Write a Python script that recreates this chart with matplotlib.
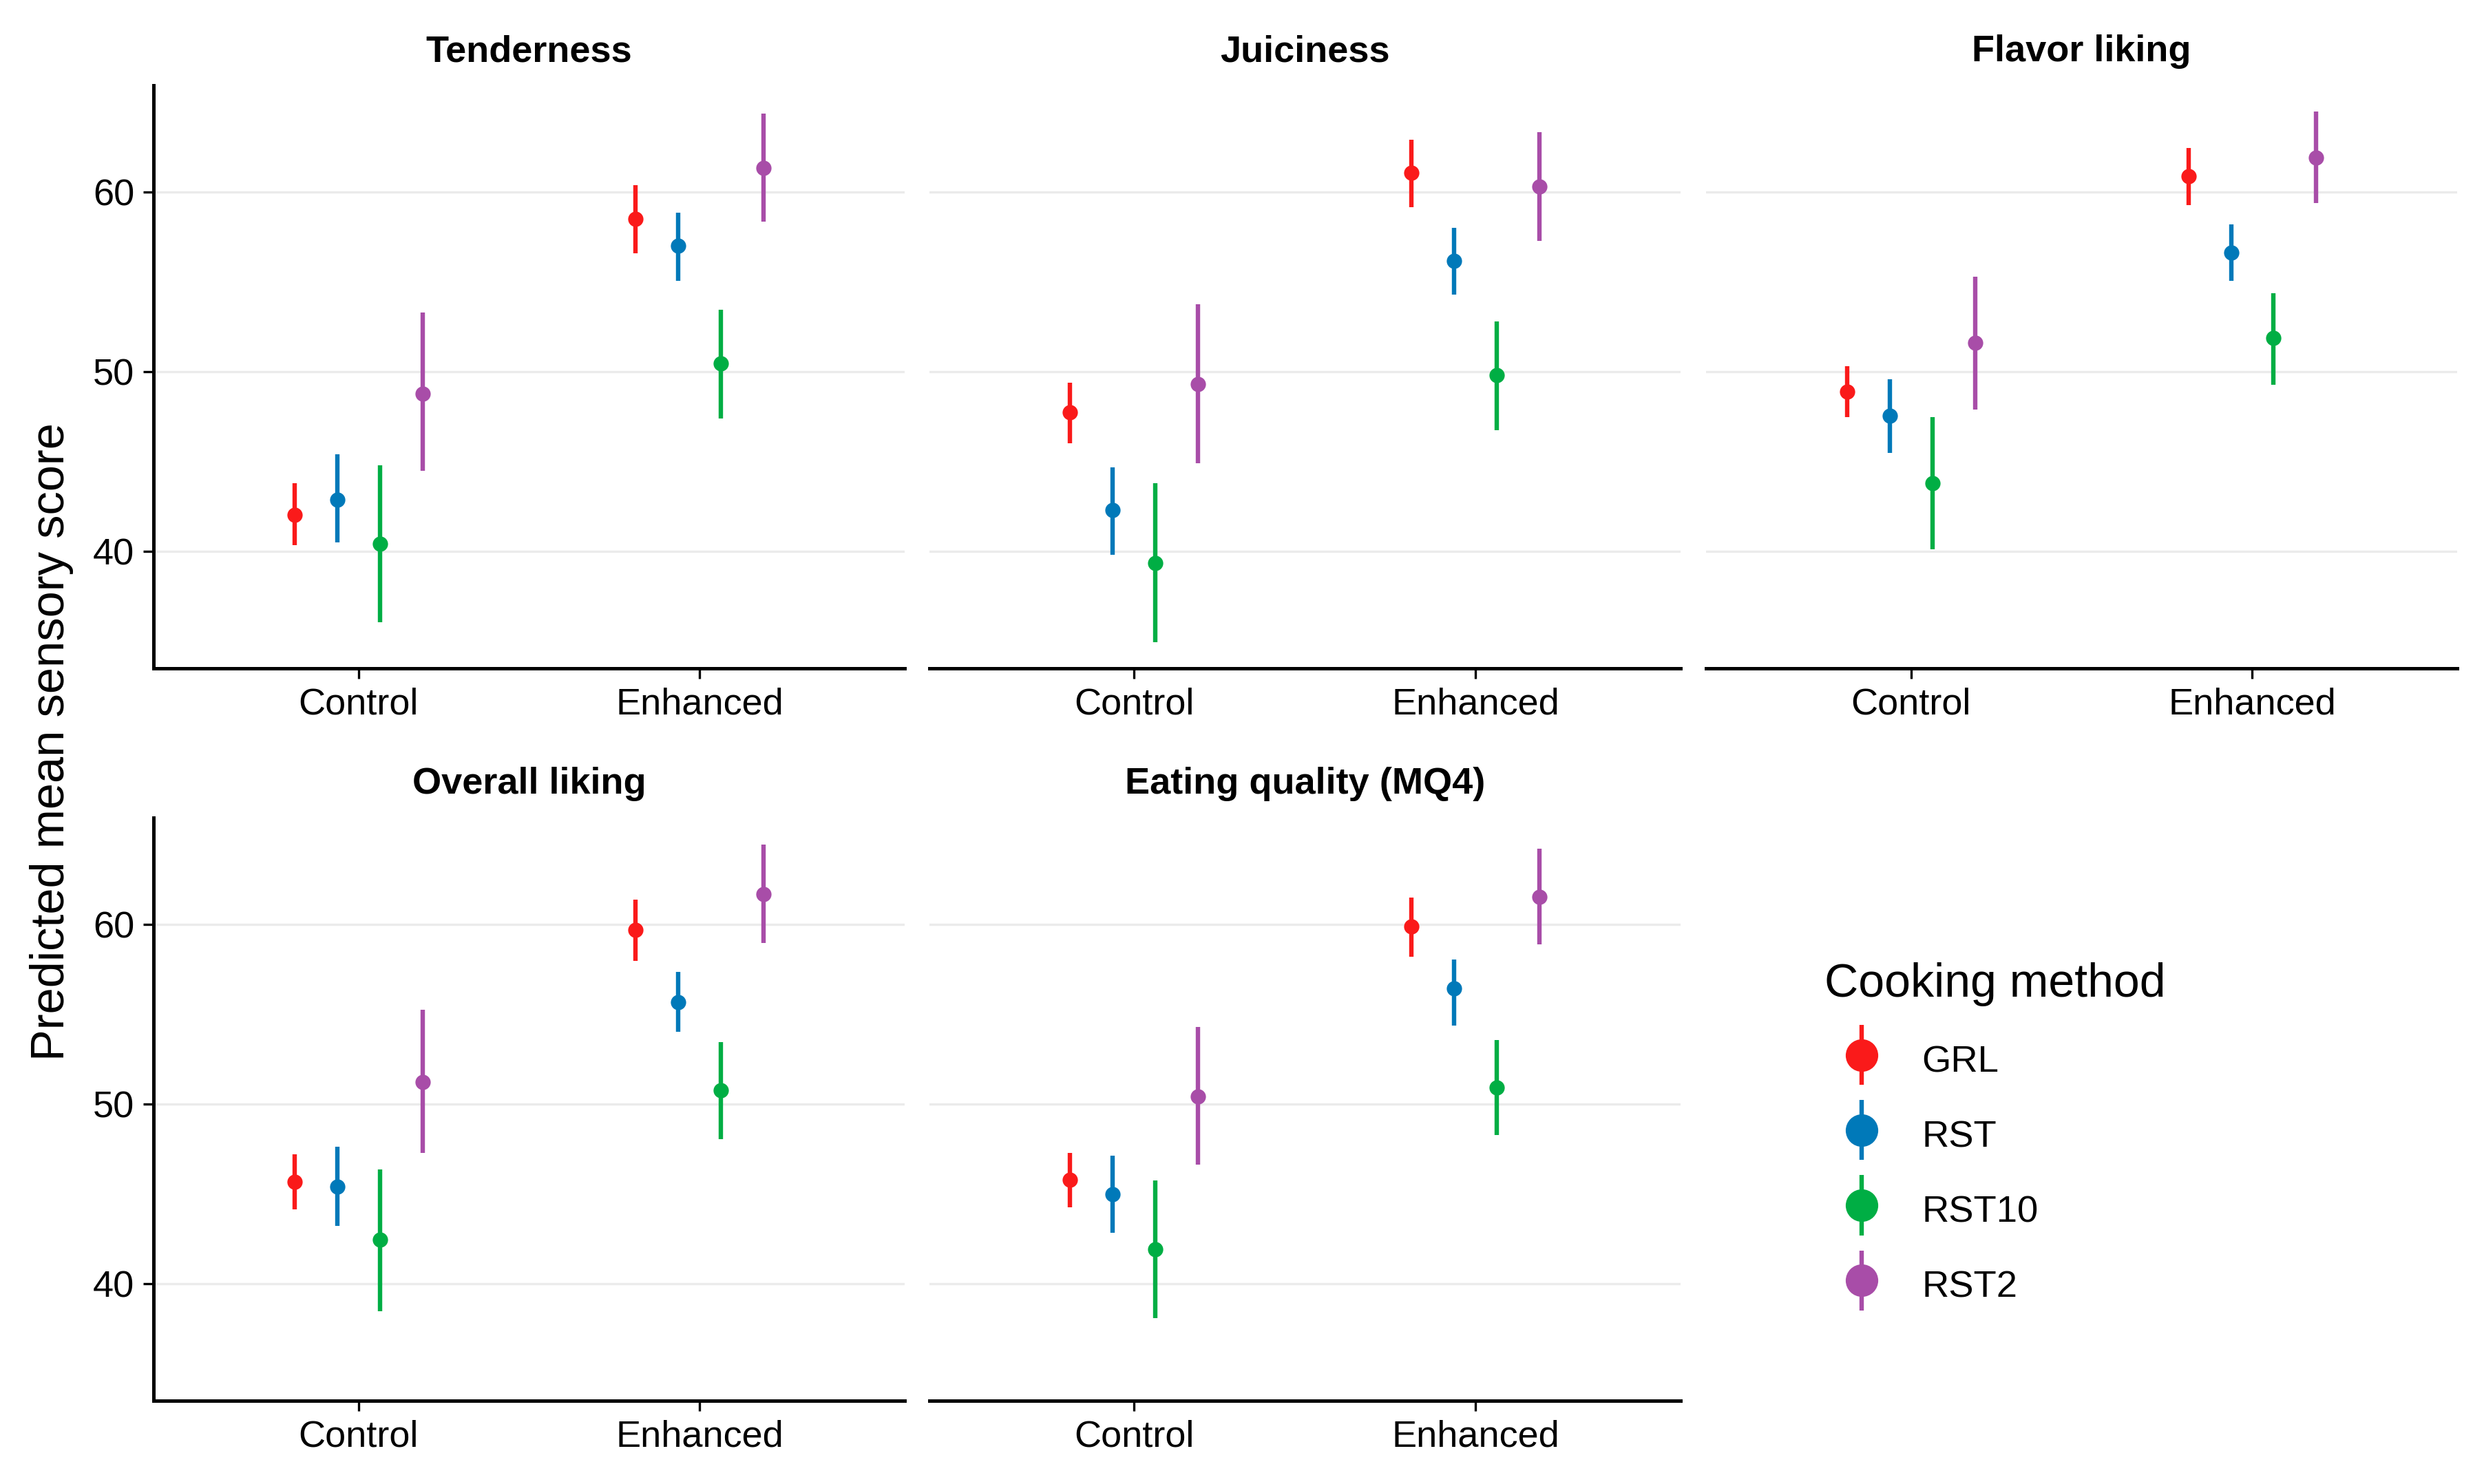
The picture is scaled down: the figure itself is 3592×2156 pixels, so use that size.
import matplotlib
matplotlib.use("Agg")
import matplotlib.pyplot as plt
import numpy as np
from matplotlib.lines import Line2D
from matplotlib.collections import LineCollection
from matplotlib.container import ErrorbarContainer
from matplotlib.legend_handler import HandlerErrorbar

plt.rcParams["font.family"] = ["Liberation Sans", "DejaVu Sans"]

treatments = ["Control", "Enhanced"]
methods = ["GRL", "RST", "RST10", "RST2"]
colors = ["#FA1A1A", "#0079B9", "#00AE44", "#A84DA8"]

# predicted means and interval ends, rows = treatment, cols = method
tenderness_mean = [[42.05, 42.9, 40.44, 48.8], [58.5, 57.0, 50.45, 61.35]]
tenderness_low = [[40.36, 40.5, 36.07, 44.5], [56.6, 55.06, 47.4, 58.34]]
tenderness_high = [[43.8, 45.4, 44.8, 53.3], [60.4, 58.86, 53.47, 64.37]]

juiciness_mean = [[47.74, 42.3, 39.38, 49.32], [61.07, 56.18, 49.8, 60.3]]
juiciness_low = [[46.03, 39.84, 34.98, 44.9], [59.17, 54.3, 46.75, 57.27]]
juiciness_high = [[49.4, 44.7, 43.8, 53.75], [62.9, 58.0, 52.8, 63.33]]

flavor_mean = [[48.9, 47.57, 43.8, 51.6], [60.88, 56.64, 51.87, 61.9]]
flavor_low = [[47.5, 45.5, 40.13, 47.9], [59.27, 55.06, 49.3, 59.38]]
flavor_high = [[50.3, 49.6, 47.5, 55.3], [62.45, 58.2, 54.37, 64.47]]

overall_mean = [[45.68, 45.41, 42.45, 51.25], [59.7, 55.69, 50.78, 61.7]]
overall_low = [[44.15, 43.23, 38.49, 47.29], [57.98, 54.02, 48.07, 58.96]]
overall_high = [[47.21, 47.62, 46.38, 55.24], [61.37, 57.36, 53.47, 64.44]]

mq4_mean = [[45.79, 45.0, 41.94, 50.43], [59.87, 56.45, 50.94, 61.53]]
mq4_low = [[44.28, 42.85, 38.09, 46.62], [58.2, 54.39, 48.3, 58.9]]
mq4_high = [[47.29, 47.13, 45.76, 54.29], [61.5, 58.06, 53.58, 64.2]]

panels = [
    ("Tenderness", tenderness_mean, tenderness_low, tenderness_high),
    ("Juiciness", juiciness_mean, juiciness_low, juiciness_high),
    ("Flavor liking", flavor_mean, flavor_low, flavor_high),
    ("Overall liking", overall_mean, overall_low, overall_high),
    ("Eating quality (MQ4)", mq4_mean, mq4_low, mq4_high),
]

fig = plt.figure(figsize=(17.96, 10.78), dpi=200)

lefts = [0.0621, 0.3758, 0.6899]
bottoms = [0.5496, 0.0561]
w, h = 0.3037, 0.393

all_low = np.min([np.min(p[2]) for p in panels])
all_high = np.max([np.max(p[3]) for p in panels])
span = all_high - all_low
ylim = (all_low - 0.05 * span, all_high + 0.05 * span)

offsets = (np.arange(len(methods)) - 1.5) * 0.125
xpos = np.arange(1, len(treatments) + 1)

for i, (title, mean, low, high) in enumerate(panels):
    r, c = divmod(i, 3)
    ax = fig.add_axes([lefts[c], bottoms[r], w, h])
    mean = np.array(mean)
    low = np.array(low)
    high = np.array(high)
    for j, m in enumerate(methods):
        x = xpos + offsets[j]
        ax.vlines(x, low[:, j], high[:, j], color=colors[j], lw=2.3, zorder=3)
        ax.plot(x, mean[:, j], "o", color=colors[j], ms=8, mew=0, zorder=4)
    ax.set_xlim(0.4, 2.6)
    ax.set_ylim(*ylim)
    ax.set_yticks([40, 50, 60])
    ax.set_xticks(xpos)
    ax.set_xticklabels(treatments)
    ax.grid(axis="y", color="#EBEBEB", lw=1.2)
    ax.set_axisbelow(True)
    for s in ["top", "right"]:
        ax.spines[s].set_visible(False)
    ax.spines["bottom"].set_linewidth(1.8)
    ax.spines["left"].set_linewidth(1.8)
    ax.tick_params(axis="both", labelsize=19.5, width=1.2, length=5.5, pad=4.5)
    if c != 0:
        ax.spines["left"].set_visible(False)
        ax.tick_params(axis="y", left=False, labelleft=False)
    ax.set_title(title, fontsize=19.5, fontweight="bold", pad=12.5)

fig.text(0.021, 0.5, "Predicted mean sensory score", rotation=90,
         ha="center", va="center", fontsize=24.7)

handles = []
for j, m in enumerate(methods):
    dot = Line2D([], [], marker="o", ms=17, mew=0, color=colors[j], linestyle="none")
    bar = LineCollection([], colors=colors[j], linewidths=2.3)
    handles.append(ErrorbarContainer((dot, (), (bar,)), has_xerr=False, has_yerr=True))

leg = fig.legend(handles, methods, loc="upper left", bbox_to_anchor=(0.724, 0.3745),
                 frameon=False, fontsize=19.6, title="Cooking method",
                 title_fontsize=24.5, handlelength=2.0, handletextpad=0.6,
                 handleheight=1.4, labelspacing=0.85, alignment="left",
                 handler_map={ErrorbarContainer: HandlerErrorbar(yerr_size=0.8)})

fig.savefig("out.png", dpi=200, facecolor="white")
